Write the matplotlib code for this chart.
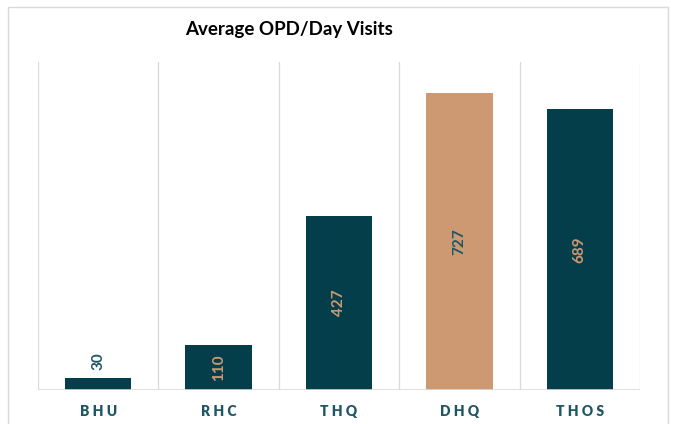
import matplotlib
matplotlib.use("Agg")
import matplotlib.pyplot as plt
from matplotlib.patches import Rectangle

categories = ["BHU", "RHC", "THQ", "DHQ", "THOS"]
values = [30, 110, 427, 727, 689]
bar_colors = ["#033E4A", "#033E4A", "#033E4A", "#CD9973", "#033E4A"]
label_colors = ["#1F5663", "#CD9973", "#CD9973", "#1F5663", "#CD9973"]
title = "Average OPD/Day Visits"

plt.rcParams['font.family'] = ['Lato', 'DejaVu Sans']

fig = plt.figure(figsize=(6.76, 4.24), dpi=100)
W, H = 676, 424
# outer frame
fig.patches.append(Rectangle((8 / W, -0.05), (668 - 8) / W, 1.05 - 7 / H,
                             transform=fig.transFigure, fill=False,
                             edgecolor="#D9D9D9", linewidth=1.0))

ax = fig.add_axes([38 / W, 1 - 390 / H, (640 - 38) / W, (390 - 62) / H])
x = list(range(len(categories)))
ax.bar(x, values, width=0.55, color=bar_colors, zorder=3)
ax.set_xlim(-0.5, len(categories) - 0.5)
ax.set_ylim(0, 803)

for b in [i - 0.5 for i in range(len(categories) + 1)]:
    ax.axvline(b, color="#D9D9D9", linewidth=0.9, zorder=1)
ax.axhline(0, color="#D9D9D9", linewidth=1.2, zorder=4)

for s in ax.spines.values():
    s.set_visible(False)
ax.set_yticks([])
ax.set_xticks(x)
ax.set_xticklabels([" ".join(c) for c in categories], fontsize=10,
                   fontweight="heavy", color="#1F5663")
ax.tick_params(axis="x", length=0, pad=11)

for i, v in enumerate(values):
    if v < 60:
        ax.text(i, v + 20, str(v), rotation=90, ha="center", va="bottom",
                fontsize=11, fontweight="bold", color=label_colors[i])
    else:
        ax.text(i, v / 2, str(v), rotation=90, ha="center", va="center",
                fontsize=11, fontweight="bold", color=label_colors[i])

fig.text(289 / W, 1 - 30 / H, title, ha="center", va="center",
         fontsize=13.5, fontweight="bold", color="#000000")

fig.savefig("out.png", dpi=100)
